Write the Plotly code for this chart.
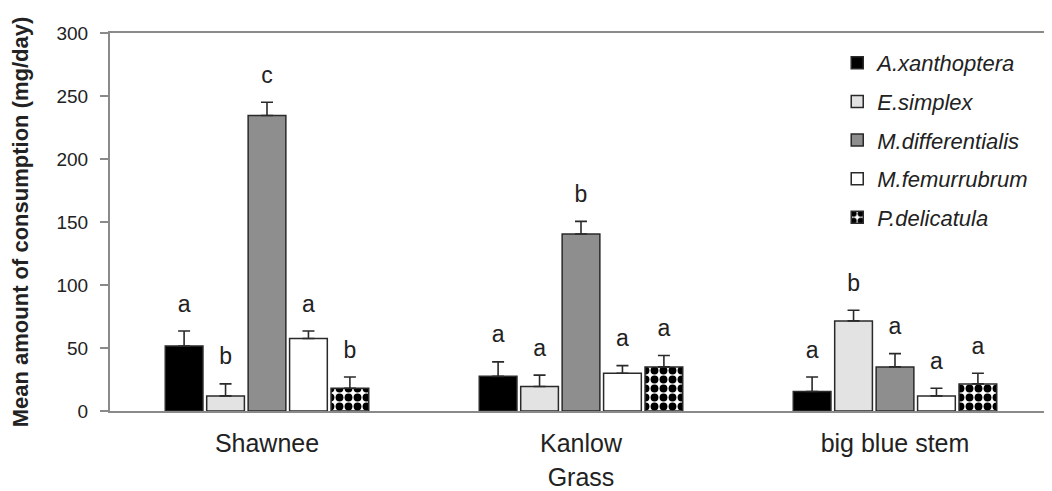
import plotly.graph_objects as go

grasses = ["Shawnee", "Kanlow", "big blue stem"]
species = ["A.xanthoptera", "E.simplex", "M.differentialis", "M.femurrubrum", "P.delicatula"]

means = {
    "A.xanthoptera":    [51.5, 27.5, 15.5],
    "E.simplex":        [12.0, 19.5, 71.5],
    "M.differentialis": [234.5, 140.5, 35.0],
    "M.femurrubrum":    [57.5, 30.0, 12.0],
    "P.delicatula":     [18.0, 35.0, 21.5],
}
errors = {
    "A.xanthoptera":    [12.0, 11.5, 11.5],
    "E.simplex":        [9.5, 9.0, 8.5],
    "M.differentialis": [10.5, 10.0, 10.5],
    "M.femurrubrum":    [6.0, 6.0, 6.0],
    "P.delicatula":     [9.0, 9.0, 8.5],
}
letters = {
    "A.xanthoptera":    ["a", "a", "a"],
    "E.simplex":        ["b", "a", "b"],
    "M.differentialis": ["c", "b", "a"],
    "M.femurrubrum":    ["a", "a", "a"],
    "P.delicatula":     ["b", "a", "a"],
}

fills = {
    "A.xanthoptera": "#000000",
    "E.simplex": "#e3e3e3",
    "M.differentialis": "#8e8e8e",
    "M.femurrubrum": "#ffffff",
    "P.delicatula": "#ffffff",
}

FONT = "Liberation Sans, Arial, sans-serif"
LETTER_OFFSET = 20  # value units above error bar top

fig = go.Figure()
for i, sp in enumerate(species):
    marker = dict(color=fills[sp], line=dict(color="#2a2a2a", width=1.5))
    if sp == "P.delicatula":
        marker["pattern"] = dict(shape=".", bgcolor="#ffffff", fgcolor="#000000",
                                 size=9, solidity=0.6, fillmode="replace")
    fig.add_trace(go.Bar(
        x=grasses, y=means[sp], name=f"<i>{sp}</i>",
        offsetgroup=str(i), legendgroup=str(i),
        marker=marker,
        error_y=dict(type="data", array=errors[sp], arrayminus=[0] * len(grasses),
                     symmetric=False, color="#2a2a2a", thickness=1.6, width=6),
    ))

for i, sp in enumerate(species):
    fig.add_trace(go.Scatter(
        x=grasses,
        y=[m + e + LETTER_OFFSET for m, e in zip(means[sp], errors[sp])],
        text=letters[sp], mode="text", offsetgroup=str(i),
        textfont=dict(family=FONT, size=23, color="#222222"),
        showlegend=False, hoverinfo="skip",
    ))

# page body has an 8px default margin; size the figure so the plot lands in the window
fig.update_layout(
    width=1044, height=483,
    margin=dict(l=102, r=0, t=25, b=80),
    paper_bgcolor="white", plot_bgcolor="white",
    barmode="group", bargap=0.34, bargroupgap=0.09,
    scattermode="group", scattergap=0.34,
    font=dict(family=FONT, color="#222222"),
    legend=dict(x=0.772, y=0.976, xanchor="left", yanchor="top",
                font=dict(family=FONT, size=22, color="#222222"),
                tracegroupgap=7, bgcolor="rgba(0,0,0,0)"),
)
fig.update_xaxes(
    showline=True, linecolor="#8a8a8a", linewidth=2, mirror=True,
    ticks="", tickfont=dict(size=25, family=FONT, color="#222222"),
    ticklabelstandoff=9,
    title=dict(text="Grass", font=dict(size=25, family=FONT, color="#222222"), standoff=16),
    showgrid=False,
)
fig.update_yaxes(
    range=[0, 300], dtick=50, showline=True, linecolor="#8a8a8a", linewidth=2,
    ticks="outside", ticklen=8, tickcolor="#8a8a8a", tickwidth=1.5,
    tickfont=dict(size=19, family=FONT, color="#222222"),
    ticklabelstandoff=8,
    title=dict(text="<b>Mean amount of consumption (mg/day)</b>",
               font=dict(size=22, family=FONT, color="#222222"), standoff=33),
    showgrid=False, zeroline=False,
)

fig.write_html("out.html")
